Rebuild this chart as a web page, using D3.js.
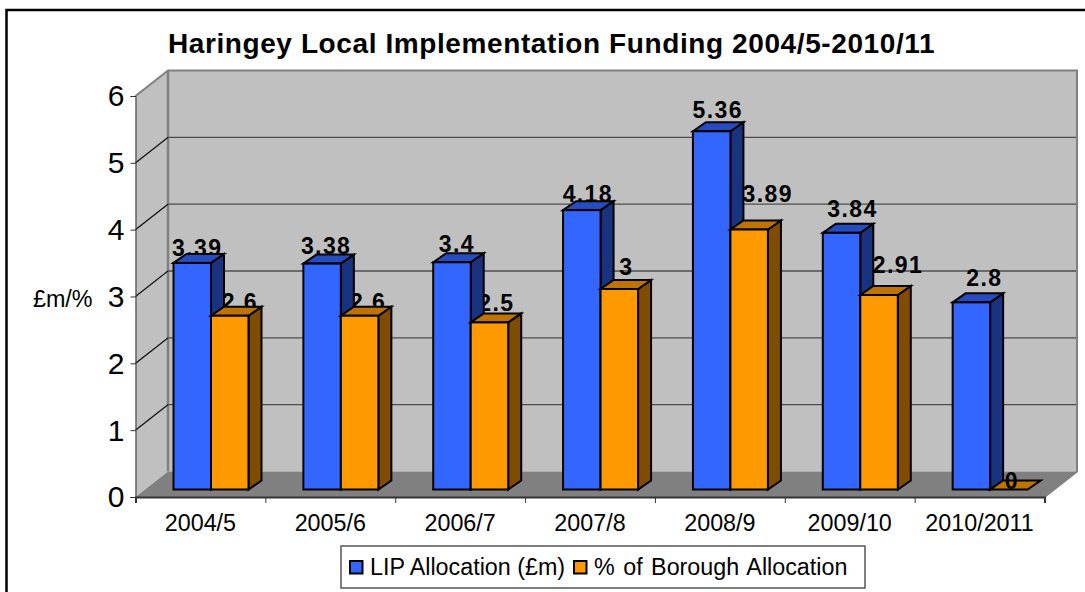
<!DOCTYPE html>
<html><head><meta charset="utf-8">
<script src="https://cdn.jsdelivr.net/npm/d3@7"></script>
<style>html,body{margin:0;padding:0;background:#fff;overflow:hidden}svg{display:block}text{font-family:"Liberation Sans",Arial,sans-serif;fill:#000}</style>
</head><body><svg id="c" width="1085" height="592"></svg>
<script>
const categories = ["2004/5","2005/6","2006/7","2007/8","2008/9","2009/10","2010/2011"];
const seriesNames = ["LIP Allocation (£m)","% of Borough Allocation"];
const lipAllocation = [3.39,3.38,3.4,4.18,5.36,3.84,2.8];
const boroughShare = [2.6,2.6,2.5,3,3.89,2.91,0];
const valueTicks = [0,1,2,3,4,5,6];
const chartTitle = "Haringey Local Implementation Funding 2004/5-2010/11";

const svg = d3.select("#c");
const depth = {x:32.5,y:-25.5}, barDepth = {x:13,y:-9};
const x0 = d3.scaleBand().domain(categories).range([135.5,1044.5]);
const x1 = d3.scaleBand().domain(seriesNames).range([38,113]);
const y = d3.scaleLinear().domain([0,6]).range([497,96]);
const barLift = -7.5;
const poly = pts => pts.map(p=>p.join(",")).join(" ");
const [L,R] = x0.range(), B=y(0), T=y(6);

// frame, walls and floor
svg.append("path").attr("d","M6.5 592V10H1085").attr("fill","none").attr("stroke","#000").attr("stroke-width",2.5);
svg.append("rect").attr("x",L+depth.x).attr("y",T+depth.y).attr("width",R-L).attr("height",B-T).attr("fill","#c0c0c0");
svg.append("polygon").attr("points",poly([[L,T],[L+depth.x,T+depth.y],[L+depth.x,B+depth.y],[L,B]])).attr("fill","#c0c0c0");
svg.append("polygon").attr("points",poly([[L,B],[R,B],[R+depth.x,B+depth.y],[L+depth.x,B+depth.y]])).attr("fill","#808080");
svg.append("path").attr("d",`M${L} ${T}L${L+depth.x} ${T+depth.y}H${R+depth.x}V${B+depth.y}L${R} ${B}`).attr("fill","none").attr("stroke","#808080").attr("stroke-width",2);
svg.append("path").attr("d",`M${L+depth.x} ${T+depth.y}V${B+depth.y}`).attr("stroke","#808080").attr("stroke-width",2.5);
// gridlines
svg.append("g").selectAll("path").data(valueTicks.filter(v=>v>0&&v<6)).join("path")
  .attr("d",v=>`M${L} ${y(v)}L${L+depth.x} ${y(v)+depth.y}H${R+depth.x-1}`)
  .attr("fill","none").attr("stroke","#4d4d4d").attr("stroke-width",1.4);
svg.append("g").selectAll("path").data(valueTicks.filter(v=>v>0&&v<6)).join("path")
  .attr("d",v=>`M${L} ${y(v)}L${L+depth.x} ${y(v)+depth.y}`)
  .attr("fill","none").attr("stroke","#111").attr("stroke-width",1);

// axes
const yAxis = svg.append("g").attr("transform",`translate(${L},0)`).call(d3.axisLeft(y).tickValues(valueTicks).tickSize(5).tickPadding(6).tickFormat(d3.format("d")));
yAxis.select(".domain").attr("stroke","#333").attr("stroke-width",1);
yAxis.selectAll("line").attr("stroke","#333");
yAxis.selectAll("text").attr("font-size",30).attr("font-family",null).attr("dy","0.33em");
const xEdge = d3.scalePoint().domain(d3.range(categories.length+1)).range([L,R]);
const xAxis = svg.append("g").attr("transform",`translate(0,${B})`).call(d3.axisBottom(xEdge).tickSize(6).tickFormat(""));
xAxis.select(".domain").attr("stroke","#333").attr("stroke-width",2);
xAxis.selectAll("line").attr("stroke","#333");
svg.append("g").selectAll("text").data(categories).join("text")
  .attr("x",d=>x0(d)+x0.bandwidth()/2).attr("y",531).attr("text-anchor","middle").attr("font-size",23.3).text(d=>d);

// titles
svg.append("text").attr("x",551.5).attr("y",53).attr("text-anchor","middle").attr("font-size",28).attr("font-weight","bold").attr("letter-spacing",0.6).text(chartTitle);
svg.append("text").attr("x",33).attr("y",307).attr("font-size",23.3).text("£m/%");

// bars
const palette = {
  [seriesNames[0]]:{front:"#3366ff",side:"#1a3380",top:"#264dbf"},
  [seriesNames[1]]:{front:"#ff9900",side:"#804d00",top:"#bf7300"}
};
const rows = categories.flatMap((c,i)=>[
  {c,s:seriesNames[0],v:lipAllocation[i]},
  {c,s:seriesNames[1],v:boroughShare[i]}
]);
// hand-placed label offsets from the bar's front-face centre and top, as in the original
const labelNudge = [[5,-7],[10,-6],[4,-10],[8.5,-6],[5,-10],[7,-11],[6,-8],[7,-14],[6,-13],[18.5,-28],[11,-16],[19,-22],[13,-16],[3,-1]];
const barX = d => x0(d.c)+x1(d.s), w = x1.bandwidth(), barY = v => y(v)+barLift, base = barY(0);
const labelAttrs = sel => sel
  .attr("x",d=>barX(d)+w/2+labelNudge[rows.indexOf(d)][0])
  .attr("y",d=>barY(d.v)+labelNudge[rows.indexOf(d)][1])
  .attr("text-anchor","middle").attr("font-size",23).attr("font-weight","bold").attr("letter-spacing",1.4).text(d=>d.v);
svg.append("g").selectAll("text").data(rows.filter(d=>d.v>0)).join("text").call(labelAttrs);
const bars = svg.append("g").selectAll("g").data(rows).join("g")
  .attr("stroke","#000").attr("stroke-width",2).attr("stroke-linejoin","miter");
bars.filter(d=>d.v>0).append("polygon").attr("fill",d=>palette[d.s].side)
  .attr("points",d=>{const x=barX(d)+w,t=barY(d.v);return poly([[x,t],[x+barDepth.x,t+barDepth.y],[x+barDepth.x,base+barDepth.y],[x,base]]);});
bars.append("polygon").attr("fill",d=>palette[d.s].top)
  .attr("points",d=>{const x=barX(d),t=barY(d.v);return poly([[x,t],[x+barDepth.x,t+barDepth.y],[x+w+barDepth.x,t+barDepth.y],[x+w,t]]);});
bars.filter(d=>d.v>0).append("rect").attr("fill",d=>palette[d.s].front)
  .attr("x",barX).attr("y",d=>barY(d.v)).attr("width",w).attr("height",d=>base-barY(d.v));
svg.append("g").selectAll("text").data(rows.filter(d=>d.v===0)).join("text").call(labelAttrs);

// legend
const legend = svg.append("g");
legend.append("rect").attr("x",341).attr("y",546).attr("width",524).attr("height",42).attr("fill","#fff").attr("stroke","#555").attr("stroke-width",1.5);
const legendSwatchX = d3.scaleOrdinal().domain(seriesNames).range([349,573]);
const swatches = legend.selectAll("g").data(seriesNames).join("g");
swatches.append("rect").attr("x",d=>legendSwatchX(d)+1).attr("y",561).attr("width",12.5).attr("height",12.5)
  .attr("fill",d=>palette[d].front).attr("stroke","#000").attr("stroke-width",2);
swatches.append("text").attr("x",d=>legendSwatchX(d)+21).attr("y",575).attr("font-size",23.3).attr("word-spacing",(d,i)=>i?2:0).text(d=>d);
</script></body></html>
